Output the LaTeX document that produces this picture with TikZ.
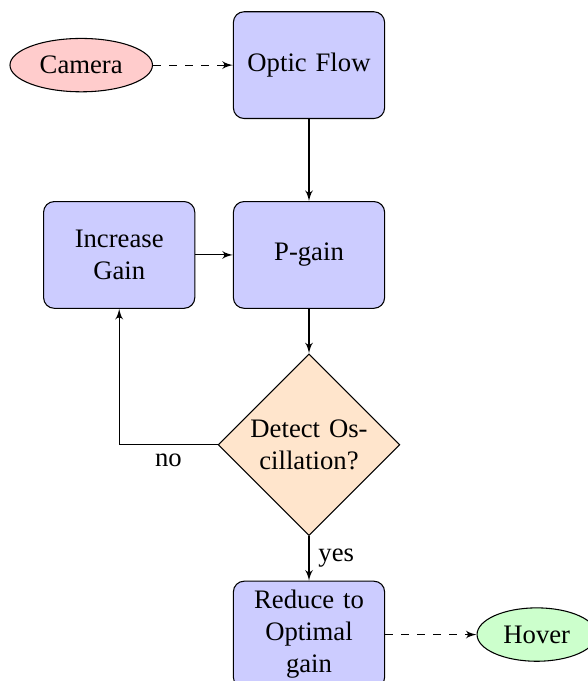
\documentclass[tikz,border=0pt]{standalone}
\usepackage{fontspec}
\setmainfont{Liberation Serif}
\usetikzlibrary{shapes.geometric,arrows}

\tikzset{
  block/.style={rectangle, draw, fill=blue!20, text width=5em, align=center,
                rounded corners, minimum height=4em},
  decision/.style={diamond, draw, fill=orange!20, text width=4.5em,
                   align=center, inner sep=1.1pt},
  cloud/.style={ellipse, draw, minimum height=2em},
  flow/.style={draw, -latex'},
  feed/.style={draw, dashed, -latex'}
}

\begin{document}
\begin{tikzpicture}
  \useasboundingbox (-115.8pt,24.4pt) rectangle (104.2pt,-230.8pt);

  % main column
  \node[block] (optic) at (0,0) {Optic Flow};
  \node[block] (pgain) at (0,-2.5) {P-gain};
  \node[decision] (detect) at (0,-5) {Detect Os-\\cillation?};
  \node[block] (reduce) at (0,-7.5) {Reduce to\\Optimal\\gain};

  % side nodes
  \node[block] (incr) at (-2.5,-2.5) {Increase\\Gain};
  \node[cloud, fill=red!20] (camera) at (-3,0) {Camera};
  \node[cloud, fill=green!20] (hover) at (3,-7.5) {Hover};

  % connectors
  \path[feed] (camera) -- (optic);
  \path[flow] (optic) -- (pgain);
  \path[flow] (incr) -- (pgain);
  \path[flow] (pgain) -- (detect);
  \path[flow] (detect) -| node[near start, below] {no} (incr);
  \path[flow] (detect) -- node[right] {yes} (reduce);
  \path[feed] (reduce) -- (hover);
\end{tikzpicture}
\end{document}
